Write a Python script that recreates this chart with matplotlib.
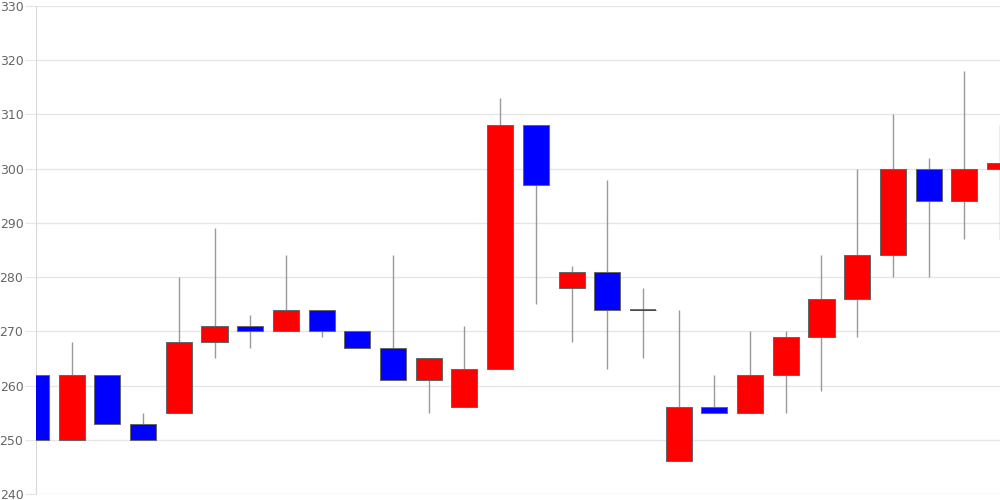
import matplotlib
matplotlib.use("Agg")
import matplotlib.pyplot as plt
import numpy as np

opens  = [262, 250, 262, 253, 255, 268, 271, 270, 274, 270, 267, 261, 256, 263, 308, 278, 281, 274, 246, 256, 255, 262, 269, 276, 284, 300, 294, 300]
closes = [250, 262, 253, 250, 268, 271, 270, 274, 270, 267, 261, 265, 263, 308, 297, 281, 274, 274, 256, 255, 262, 269, 276, 284, 300, 294, 300, 301]
highs  = [262, 268, 262, 255, 280, 289, 273, 284, 274, 270, 284, 265, 271, 313, 308, 282, 298, 278, 274, 262, 270, 270, 284, 300, 310, 302, 318, 308]
lows   = [250, 250, 253, 250, 255, 265, 267, 270, 269, 267, 261, 255, 256, 263, 275, 268, 263, 265, 246, 255, 255, 255, 259, 269, 280, 280, 287, 287]
yticks = [240, 250, 260, 270, 280, 290, 300, 310, 320, 330]

fig = plt.figure(figsize=(10, 5), dpi=100)
ax = fig.add_axes([0.036, 0.012, 0.964, 0.976])

x = np.arange(len(opens))
o = np.array(opens, float); c = np.array(closes, float)
h = np.array(highs, float); l = np.array(lows, float)

ax.vlines(x, l, h, color="#999999", linewidth=1.0, zorder=2)
colors = []
for oi, ci in zip(o, c):
    if ci > oi:
        colors.append("#ff0000")
    elif ci < oi:
        colors.append("#0000ff")
    else:
        colors.append("#333333")
bottoms = np.minimum(o, c)
heights = np.abs(c - o)
ax.bar(x, heights, width=0.73, bottom=bottoms, color=colors,
       edgecolor="#666666", linewidth=0.75, zorder=3)
for xi, oi, ci in zip(x, o, c):
    if oi == ci:
        ax.hlines(oi, xi - 0.365, xi + 0.365, color="#444444", linewidth=1.1, zorder=3)

ax.set_xlim(0, len(opens) - 1)
ax.set_ylim(240, 330)
ax.set_yticks(yticks)
ax.set_xticks([])
ax.grid(axis="y", color="#e6e6e6", linewidth=1)
ax.set_axisbelow(True)
for s in ["top", "right", "bottom"]:
    ax.spines[s].set_visible(False)
ax.spines["left"].set_color("#d9d9d9")
ax.tick_params(axis="y", length=8, color="#e6e6e6", labelcolor="#666666", labelsize=9, pad=1)
fig.savefig("out.png", dpi=100)
